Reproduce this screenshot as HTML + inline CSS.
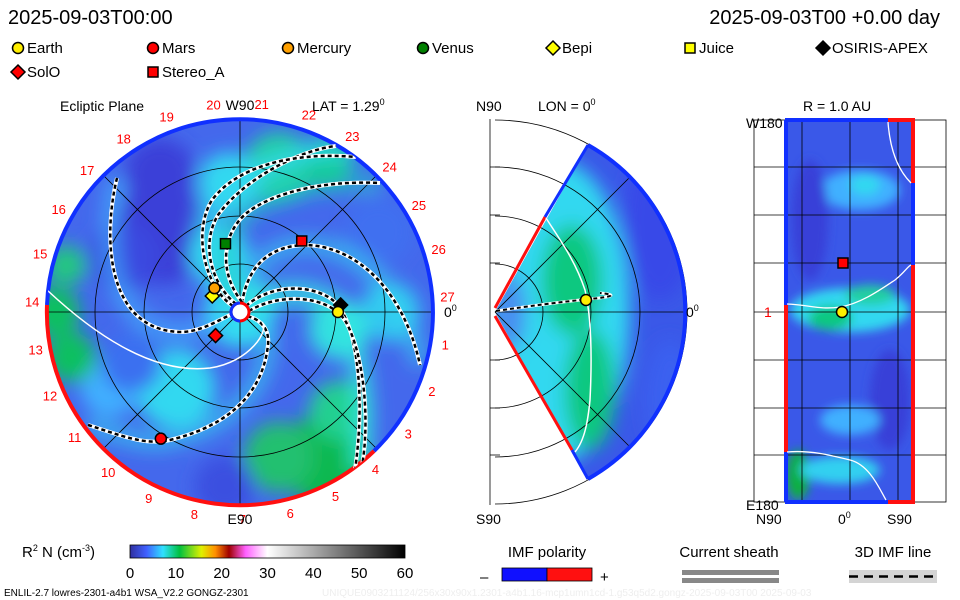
<!DOCTYPE html>
<html><head><meta charset="utf-8"><style>
body{margin:0;background:#fff;}
svg{display:block;font-family:"Liberation Sans",sans-serif;}
</style></head><body>
<svg id="c" width="960" height="600" viewBox="0 0 960 600" xmlns="http://www.w3.org/2000/svg">
<defs>
<filter id="bl" x="-20%" y="-20%" width="140%" height="140%"><feGaussianBlur stdDeviation="9"/></filter>
<filter id="bl2"><feGaussianBlur stdDeviation="5"/></filter>
<clipPath id="diskc"><circle cx="240" cy="312" r="193"/></clipPath>
<clipPath id="wedgec"><path d="M495,312 L588,145 A192,192 0 0 1 588,479 Z"/></clipPath>
<clipPath id="rectc"><rect x="785" y="120" width="129" height="382"/></clipPath>
<linearGradient id="cbar" x1="0" x2="1">
<stop offset="0" stop-color="#3030a0"/><stop offset="0.06" stop-color="#4060ff"/><stop offset="0.12" stop-color="#30e0ff"/><stop offset="0.18" stop-color="#00c040"/><stop offset="0.26" stop-color="#e0f000"/><stop offset="0.31" stop-color="#ff9000"/><stop offset="0.36" stop-color="#a00000"/><stop offset="0.42" stop-color="#ff60ff"/><stop offset="0.5" stop-color="#ffffff"/><stop offset="1" stop-color="#000000"/>
</linearGradient>
</defs>

<text x="8" y="24" font-size="20">2025-09-03T00:00</text>
<text x="940" y="24" font-size="20" text-anchor="end">2025-09-03T00 +0.00 day</text>

<g id="legend" font-size="15"></g>

<!-- left disk -->
<g>
<text x="60" y="111" font-size="14">Ecliptic Plane</text>
<text x="312" y="111" font-size="14">LAT = 1.29<tspan dy="-6" font-size="9">0</tspan></text>
<g clip-path="url(#diskc)">
<rect x="40" y="110" width="400" height="400" fill="#4468ec"/>
<g id="diskfield" filter="url(#bl)"></g>
</g>
<g id="diskgrid" fill="none" stroke="#000" stroke-width="0.8"></g>
<path d="M47,305 A193,193 0 1 1 374,451" fill="none" stroke="#1030ff" stroke-width="4"/>
<path d="M374,451 A193,193 0 0 1 47,305" fill="none" stroke="#ff1010" stroke-width="4"/>
<g id="spirals" clip-path="url(#diskc)"></g>
<g id="hours" font-size="13" fill="#ff0000" text-anchor="middle"></g>
<text x="240" y="110" font-size="14" text-anchor="middle">W90</text>
<text x="240" y="524" font-size="14" text-anchor="middle">E90</text>
<text x="444" y="317" font-size="14">0<tspan dy="-6" font-size="9">0</tspan></text>
<circle cx="240" cy="312" r="9" fill="#fff" stroke="#ff0000" stroke-width="3"/>
<path d="M240,303 A9,9 0 0 0 240,321" fill="none" stroke="#1030ff" stroke-width="3"/>
<g id="bodiesL"></g>
</g>

<!-- middle wedge -->
<g>
<text x="476" y="111" font-size="14">N90</text>
<text x="538" y="111" font-size="14">LON = 0<tspan dy="-6" font-size="9">0</tspan></text>
<g clip-path="url(#wedgec)">
<rect x="490" y="140" width="200" height="345" fill="#3a58e8"/>
<g filter="url(#bl)">
<ellipse cx="560" cy="312" rx="70" ry="150" fill="#30d8f0"/>
<ellipse cx="572" cy="280" rx="30" ry="55" fill="#10c880"/>
<ellipse cx="590" cy="390" rx="25" ry="60" fill="#10c880"/>
<ellipse cx="660" cy="220" rx="35" ry="80" fill="#3848e8"/>
<ellipse cx="670" cy="400" rx="25" ry="60" fill="#3a60f0"/>
<ellipse cx="510" cy="312" rx="15" ry="40" fill="#4888f0"/>
</g>
</g>
<g id="midgrid" fill="none" stroke="#000" stroke-width="0.8"></g>
<path d="M495,308 L545,217" stroke="#ff1010" stroke-width="3"/>
<path d="M545,217 L588,145" stroke="#1030ff" stroke-width="3"/>
<path d="M588,145 A192,192 0 0 1 588,479" fill="none" stroke="#1030ff" stroke-width="4"/>
<path d="M495,316 L572,450" stroke="#ff1010" stroke-width="3"/>
<path d="M572,450 L588,479" stroke="#1030ff" stroke-width="3"/>
<path d="M546,218 C560,240 575,260 585,290 C592,320 592,360 590,400 C588,420 585,440 575,452" fill="none" stroke="#fff" stroke-width="1.5"/>
<path d="M496,311 C530,306 560,302 590,299 C610,297 620,295 600,293" fill="none" stroke="#fff" stroke-width="3"/>
<path d="M496,311 C530,306 560,302 590,299 C610,297 620,295 600,293" fill="none" stroke="#000" stroke-width="2" stroke-dasharray="4,3"/>
<text x="686" y="317" font-size="14">0<tspan dy="-6" font-size="9">0</tspan></text>
<text x="476" y="524" font-size="14">S90</text>
<circle cx="586" cy="300" r="5.5" fill="#ffee00" stroke="#000" stroke-width="1.5"/>
</g>

<!-- right panel -->
<g>
<text x="803" y="111" font-size="14">R = 1.0 AU</text>
<text x="746" y="128" font-size="14">W180</text>
<text x="764" y="317" font-size="14" fill="#ff0000">1</text>
<text x="746" y="510" font-size="14">E180</text>
<text x="756" y="524" font-size="14">N90</text>
<text x="838" y="524" font-size="14">0<tspan dy="-6" font-size="9">0</tspan></text>
<text x="887" y="524" font-size="14">S90</text>
<g clip-path="url(#rectc)">
<rect x="785" y="120" width="130" height="382" fill="#3a58e8"/>
<g filter="url(#bl2)">
<ellipse cx="850" cy="310" rx="60" ry="22" fill="#30d8f0"/>
<ellipse cx="830" cy="318" rx="22" ry="12" fill="#10c880"/>
<ellipse cx="870" cy="295" rx="25" ry="10" fill="#20d0a0"/>
<ellipse cx="860" cy="190" rx="40" ry="20" fill="#40b0ff"/>
<ellipse cx="865" cy="185" rx="15" ry="10" fill="#30d8f0"/>
<ellipse cx="810" cy="220" rx="18" ry="60" fill="#3840d8"/>
<ellipse cx="890" cy="400" rx="20" ry="50" fill="#3840d8"/>
<ellipse cx="798" cy="475" rx="12" ry="25" fill="#10b040"/>
<ellipse cx="840" cy="470" rx="40" ry="14" fill="#30d0f0"/>
<ellipse cx="850" cy="420" rx="30" ry="15" fill="#40b0ff"/>
</g>
</g>
<g id="rgrid" stroke="#000" stroke-width="0.8"></g>
<rect x="785" y="118" width="103" height="4" fill="#1030ff"/>
<rect x="785" y="500" width="103" height="4" fill="#1030ff"/>
<rect x="888" y="118" width="27" height="4" fill="#ff1010"/>
<rect x="888" y="500" width="27" height="4" fill="#ff1010"/>
<rect x="784" y="120" width="4" height="185" fill="#1030ff"/>
<rect x="784" y="305" width="4" height="147" fill="#ff1010"/>
<rect x="784" y="452" width="4" height="50" fill="#1030ff"/>
<rect x="911" y="120" width="4" height="63" fill="#ff1010"/>
<rect x="911" y="183" width="4" height="82" fill="#1030ff"/>
<rect x="911" y="265" width="4" height="237" fill="#ff1010"/>
<path d="M787,304 C810,305 820,310 840,307 C860,304 880,290 895,280 C905,272 908,266 911,265" fill="none" stroke="#fff" stroke-width="1.3"/>
<path d="M888,122 C890,150 898,170 911,183" fill="none" stroke="#fff" stroke-width="1.3"/>
<path d="M787,452 C810,450 830,455 850,460 C870,465 880,490 886,500" fill="none" stroke="#fff" stroke-width="1.3"/>
<rect x="838" y="258" width="10" height="10" fill="#ff0000" stroke="#000" stroke-width="1.5"/>
<circle cx="842" cy="312" r="5.5" fill="#ffee00" stroke="#000" stroke-width="1.5"/>
</g>

<!-- bottom -->
<g>
<text x="22" y="557" font-size="15">R<tspan dy="-6" font-size="9">2</tspan><tspan dy="6"> N (cm</tspan><tspan dy="-6" font-size="9">-3</tspan><tspan dy="6">)</tspan></text>
<rect x="130" y="545" width="275" height="13" fill="url(#cbar)" stroke="#000" stroke-width="0.8"/>
<g id="cbticks" font-size="15" text-anchor="middle"></g>
</g>
<g>
<text x="547" y="557" font-size="15" text-anchor="middle">IMF polarity</text>
<text x="480" y="582" font-size="15">–</text>
<rect x="502" y="568" width="45" height="13" fill="#1010ff" stroke="#000" stroke-width="0.8"/>
<rect x="547" y="568" width="45" height="13" fill="#ff1010" stroke="#000" stroke-width="0.8"/>
<text x="600" y="582" font-size="15">+</text>
</g>
<g>
<text x="729" y="557" font-size="15" text-anchor="middle">Current sheath</text>
<rect x="682" y="570" width="97" height="5" fill="#888"/>
<rect x="682" y="578" width="97" height="5" fill="#888"/>
</g>
<g>
<text x="893" y="557" font-size="15" text-anchor="middle">3D IMF line</text>
<rect x="849" y="570" width="88" height="13" fill="#d4d4d4"/>
<line x1="849" y1="576.5" x2="937" y2="576.5" stroke="#000" stroke-width="2.5" stroke-dasharray="9,6"/>
</g>
<text x="4" y="596" font-size="10">ENLIL-2.7 lowres-2301-a4b1 WSA_V2.2 GONGZ-2301</text>
<text x="322" y="596" font-size="10" fill="#eee">UNIQUE0903211124/256x30x90x1.2301-a4b1.16-mcp1umn1cd-1.g53q5d2.gongz-2025-09-03T00   2025-09-03</text>
</svg>
<script>
const NS="http://www.w3.org/2000/svg";
function mk(tag,attrs,parent){const e=document.createElementNS(NS,tag);for(const k in attrs)e.setAttribute(k,attrs[k]);parent.appendChild(e);return e;}

// legend
const legendNames=["Earth","Mars","Mercury","Venus","Bepi","Juice","OSIRIS-APEX","SolO","Stereo_A"];
const legendShapes=["circle","circle","circle","circle","diamond","square","diamond","diamond","square"];
const legendColors=["#ffee00","#ff0000","#ffa000","#008000","#ffff00","#ffff00","#000000","#ff0000","#ff0000"];
const legendX=[12,147,282,417,547,684,817,12,147];
const legendY=[48,48,48,48,48,48,48,72,72];
const lg=document.getElementById('legend');
function shape(kind,x,y,color,parent,name){
  let e;
  if(kind==="circle") e=mk('circle',{cx:x,cy:y,r:5.5,fill:color,stroke:'#000','stroke-width':1.5},parent);
  else if(kind==="square") e=mk('rect',{x:x-5,y:y-5,width:10,height:10,fill:color,stroke:'#000','stroke-width':1.5},parent);
  else e=mk('path',{d:`M${x},${y-7} L${x+7},${y} L${x},${y+7} L${x-7},${y} Z`,fill:color,stroke:'#000','stroke-width':1.5},parent);
  
  
  return e;
}
legendNames.forEach((n,i)=>{
  const g=mk('g',{},lg);
  
  
  shape(legendShapes[i],legendX[i]+6,legendY[i],legendColors[i],g,'legend-marker');
  const t=mk('text',{x:legendX[i]+15,y:legendY[i]+5},g);t.textContent=n;
});

// disk density field blobs (polar angle deg, radius px)
const df=document.getElementById('diskfield');
const blobAng=[135,120,155,75,60,95,30,0,-10,0,-60,-75,-45,-95,-130,-150,180,195,165,205,110];
const blobRad=[110,160,130,150,175,130,160,150,100,0,170,150,140,175,100,150,185,175,180,120,60];
const blobCol=["#3a40d8","#3a40d8","#3a48e0","#20d0a0","#10c880","#30d8f0","#4070f0","#30c8f0","#30e0e0","#30e0f0","#10b850","#20c070","#20d090","#3a50e0","#30d8f0","#40b0ff","#10c060","#10c060","#20c880","#3a70f0","#30d8f0"];
const blobSize=[50,35,35,35,25,30,35,30,30,35,45,35,30,30,40,30,25,25,20,30,30];
blobAng.forEach((a,i)=>{
  const r=a*Math.PI/180;
  const e=mk('circle',{cx:240+blobRad[i]*Math.cos(r),cy:312-blobRad[i]*Math.sin(r),r:blobSize[i],fill:blobCol[i]},df);
  
  
});
// IMF field lines traced in the ecliptic
const fieldLines=[
 "M246,306 C275,280 325,285 340,308 C358,335 365,400 355,470",
 "M249,311 C280,292 330,295 346,322 C364,355 370,420 362,466",
 "M242,303 C248,265 270,246 305,245 C360,246 405,295 420,365",
 "M236,304 C212,285 200,245 218,215 C245,178 300,150 336,146",
 "M233,306 C205,288 192,232 212,200 C240,163 300,152 356,157",
 "M242,302 C218,272 222,232 248,212 C272,194 320,180 380,183",
 "M117,178 C103,235 105,330 180,332 C200,332 215,322 232,314",
 "M88,425 C120,435 145,446 170,440 C220,428 262,400 268,345 C270,327 258,318 246,316"
];
const armCol=["#30e8e0","#30e8e0","#30d8f0","#30d8f0","#30d8f0","#20d0c0","#40c0ff","#30d8f0"];
const spG=document.getElementById('spirals');
fieldLines.forEach((p,i)=>{
  const c=mk('path',{d:p,fill:'none',stroke:armCol[i],'stroke-width':18,opacity:0.6},df);
  
  
  const w=mk('path',{d:p,fill:'none',stroke:'#fff','stroke-width':4},spG);
  
  
  const b=mk('path',{d:p,fill:'none',stroke:'#000','stroke-width':2.5,'stroke-dasharray':'4,3'},spG);
  
  
});
const cs=mk('path',{d:"M47,290 C90,330 150,375 210,368 C250,362 270,330 262,322",fill:'none',stroke:'#fff','stroke-width':1.5},spG);



// disk grid
const dg=document.getElementById('diskgrid');
[48,96,145].forEach(r=>{const c=mk('circle',{cx:240,cy:312,r:r},dg);});
[0,45,90,135].forEach(a=>{const t=a*Math.PI/180;const l=mk('line',{x1:240-193*Math.cos(t),y1:312-193*Math.sin(t),x2:240+193*Math.cos(t),y2:312+193*Math.sin(t)},dg);});

// day labels
const hourLabels=[1,2,3,4,5,6,7,8,9,10,11,12,13,14,15,16,17,18,19,20,21,22,23,24,25,26,27];
const hg=document.getElementById('hours');
hourLabels.forEach(k=>{
  const a=((27-k)*360/27+4)*Math.PI/180;
  const t=mk('text',{x:(240+208*Math.cos(a)).toFixed(1),y:(316-208*Math.sin(a)).toFixed(1)},hg);
  
  
  t.textContent=k;
});

// bodies in ecliptic plane
const bodyNames=["earth","mars","mercury","venus","stereo-a","solo","bepi","osiris-apex"];
const bodyShapes=["circle","circle","circle","square","square","diamond","diamond","diamond"];
const bodyColors=["#ffee00","#ff0000","#ffa000","#008000","#ff0000","#ff0000","#ffff00","#000000"];
const bodyAngle=[0,-122,137,102,49,-136,150,4];
const bodyRadiusAU=[1.01,1.54,0.36,0.72,0.97,0.35,0.33,1.04];
const AU=97;
const bl=document.getElementById('bodiesL');
[7,6,5,4,3,2,1,0].forEach(i=>{
  const a=bodyAngle[i]*Math.PI/180;
  shape(bodyShapes[i],240+bodyRadiusAU[i]*AU*Math.cos(a),312-bodyRadiusAU[i]*AU*Math.sin(a),bodyColors[i],bl,bodyNames[i]+'-marker');
});

// middle grid
const mg=document.getElementById('midgrid');
[48,96,145,192].forEach(r=>{const c=mk('path',{d:`M495,${312-r} A${r},${r} 0 0 1 495,${312+r}`},mg);});
[-45,0,45].forEach(a=>{const t=a*Math.PI/180;const l=mk('line',{x1:495,y1:312,x2:495+192*Math.cos(t),y2:312-192*Math.sin(t)},mg);});
const vline=mk('line',{x1:490,y1:119,x2:490,y2:505},mg);

[167,215,263,360,408,455].forEach(y=>{const l=mk('line',{x1:490,y1:y,x2:500,y2:y},mg);});

// right grid
const rg=document.getElementById('rgrid');
const rRows=[167,215,263,312,360,408,455];
rRows.forEach(y=>{const l=mk('line',{x1:754,y1:y,x2:946,y2:y},rg);});
[802,850,898].forEach(x=>{const l=mk('line',{x1:x,y1:120,x2:x,y2:502},rg);});
const fr=mk('rect',{x:754,y:120,width:192,height:382,fill:'none'},rg);


// colorbar ticks
const cbTicks=[0,10,20,30,40,50,60];
const cb=document.getElementById('cbticks');
cbTicks.forEach(v=>{
  const x=130+v/60*275;
  const t=mk('text',{x:x,y:578},cb);
  
  
  t.textContent=v;
});
</script>
</body></html>
